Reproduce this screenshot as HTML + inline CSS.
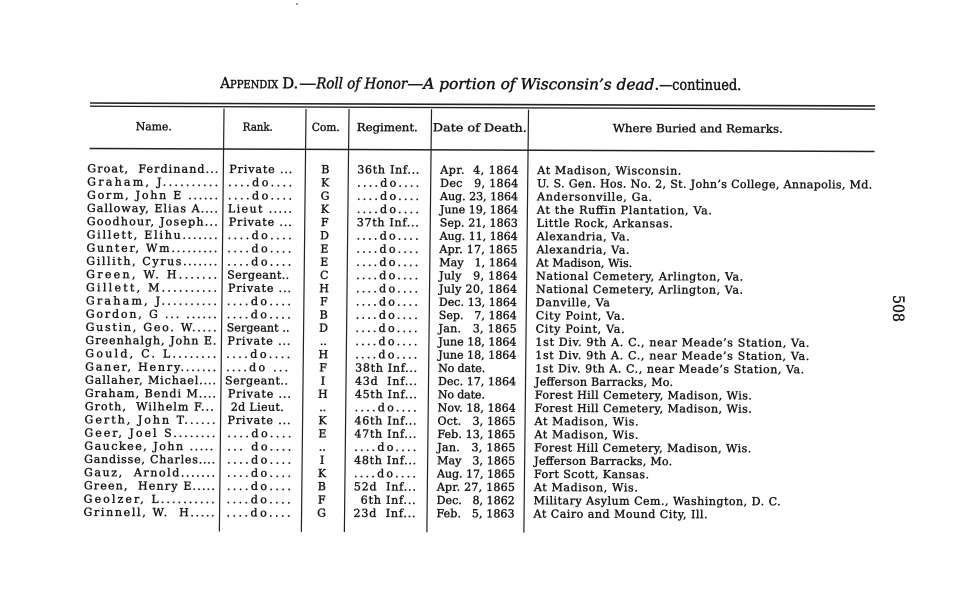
<!DOCTYPE html>
<html>
<head>
<meta charset="utf-8">
<style>
  html,body{margin:0;padding:0;background:#fff;}
  body{width:966px;height:600px;overflow:hidden;}
  svg{display:block;}
  text{font-family:"DejaVu Serif","Liberation Serif",serif;fill:#141414;stroke:#141414;stroke-width:0.38;white-space:pre;}
  .b{font-size:11px;}
  .h{font-size:11px;}
  .t{font-size:15px;stroke-width:0.45;}
  .i{font-style:italic;}
</style>
</head>
<body>
<svg width="966" height="600" viewBox="0 0 966 600" xmlns="http://www.w3.org/2000/svg">
<rect width="966" height="600" fill="#fefefe" stroke="none"/>
<circle cx="297" cy="4" r="0.9" fill="#555"/>
<g transform="matrix(1 0.0038 -0.011 1 1.21 -0.342)">
  <!-- Title -->
  <text class="t" x="220" y="87.5" textLength="58" lengthAdjust="spacingAndGlyphs">A<tspan font-size="11">PPENDIX</tspan></text>
  <text class="t" x="282" y="87.5" textLength="16" lengthAdjust="spacingAndGlyphs">D.</text>
  <text class="t" x="299" y="87.5" textLength="17" lengthAdjust="spacingAndGlyphs">—</text>
  <text class="t i" x="316" y="87.5" textLength="91" lengthAdjust="spacingAndGlyphs">Roll of Honor</text>
  <text class="t" x="407" y="87.5" textLength="16" lengthAdjust="spacingAndGlyphs">—</text>
  <text class="t i" x="423" y="87.5" textLength="236" lengthAdjust="spacingAndGlyphs">A portion of Wisconsin’s dead.</text>
  <text class="t" x="659" y="87.5" textLength="82" lengthAdjust="spacingAndGlyphs">—continued.</text>

  <!-- Rules -->
  <line x1="90" y1="103" x2="875" y2="103" stroke="#222" stroke-width="1.6"/>
  <line x1="90" y1="106.2" x2="875" y2="106.2" stroke="#222" stroke-width="1.3"/>
  <line x1="90" y1="148.5" x2="875" y2="148.5" stroke="#222" stroke-width="1.5"/>

  <!-- Vertical lines -->
  <g stroke="#222" stroke-width="1.2">
    <line x1="224" y1="108" x2="224" y2="531"/>
    <line x1="306" y1="108" x2="306" y2="531"/>
    <line x1="349" y1="108" x2="349" y2="531"/>
    <line x1="431.5" y1="108" x2="431.5" y2="531"/>
    <line x1="528.5" y1="108" x2="528.5" y2="531"/>
  </g>

  <!-- Header -->
  <text class="h" x="136" y="130" textLength="36" lengthAdjust="spacingAndGlyphs">Name.</text>
  <text class="h" x="243" y="130" textLength="30" lengthAdjust="spacingAndGlyphs">Rank.</text>
  <text class="h" x="312" y="130" textLength="28" lengthAdjust="spacingAndGlyphs">Com.</text>
  <text class="h" x="357" y="130" textLength="61" lengthAdjust="spacingAndGlyphs">Regiment.</text>
  <text class="h" x="433" y="130" textLength="94" lengthAdjust="spacingAndGlyphs">Date of Death.</text>
  <text class="h" x="613" y="130" textLength="170" lengthAdjust="spacingAndGlyphs">Where Buried and Remarks.</text>

  <!-- Rows -->
  <g class="b">
  <!-- 1 -->
  <text class="b" x="88" y="172.3" textLength="131" lengthAdjust="spacing">Groat,  Ferdinand...</text>
  <text class="b" x="230" y="172.3" textLength="63" lengthAdjust="spacing">Private ...</text>
  <text class="b" x="326" y="172.3" text-anchor="middle">B</text>
  <text class="b" x="358" y="172.3" textLength="62" lengthAdjust="spacing">36th Inf...</text>
  <text class="b" x="441" y="172.3" textLength="78" lengthAdjust="spacing">Apr.  4, 1864</text>
  <text class="b" x="538" y="172.3" textLength="144" lengthAdjust="spacing">At Madison, Wisconsin.</text>
  <!-- 2 -->
  <text class="b" x="88" y="185.5" textLength="131" lengthAdjust="spacing">Graham, J..........</text>
  <text class="b" x="229" y="185.5" textLength="64" lengthAdjust="spacing">....do....</text>
  <text class="b" x="326" y="185.5" text-anchor="middle">K</text>
  <text class="b" x="358" y="185.5" textLength="62" lengthAdjust="spacing">....do....</text>
  <text class="b" x="441" y="185.5" textLength="78" lengthAdjust="spacing">Dec   9, 1864</text>
  <text class="b" x="538" y="185.5" textLength="335" lengthAdjust="spacing">U. S. Gen. Hos. No. 2, St. John’s College, Annapolis, Md.</text>
  <!-- 3 -->
  <text class="b" x="88" y="198.7" textLength="131" lengthAdjust="spacing">Gorm, John E ......</text>
  <text class="b" x="229" y="198.7" textLength="64" lengthAdjust="spacing">....do....</text>
  <text class="b" x="326" y="198.7" text-anchor="middle">G</text>
  <text class="b" x="358" y="198.7" textLength="62" lengthAdjust="spacing">....do....</text>
  <text class="b" x="441" y="198.7" textLength="78" lengthAdjust="spacing">Aug. 23, 1864</text>
  <text class="b" x="538" y="198.7" textLength="115" lengthAdjust="spacing">Andersonville, Ga.</text>
  <!-- 4 -->
  <text class="b" x="88" y="211.9" textLength="131" lengthAdjust="spacing">Galloway, Elias A....</text>
  <text class="b" x="229" y="211.9" textLength="64" lengthAdjust="spacing">Lieut .....</text>
  <text class="b" x="326" y="211.9" text-anchor="middle">K</text>
  <text class="b" x="358" y="211.9" textLength="62" lengthAdjust="spacing">....do....</text>
  <text class="b" x="441" y="211.9" textLength="78" lengthAdjust="spacing">June 19, 1864</text>
  <text class="b" x="538" y="211.9" textLength="175" lengthAdjust="spacing">At the Ruffin Plantation, Va.</text>
  <!-- 5 -->
  <text class="b" x="88" y="225.1" textLength="131" lengthAdjust="spacing">Goodhour, Joseph...</text>
  <text class="b" x="230" y="225.1" textLength="63" lengthAdjust="spacing">Private ...</text>
  <text class="b" x="326" y="225.1" text-anchor="middle">F</text>
  <text class="b" x="358" y="225.1" textLength="62" lengthAdjust="spacing">37th Inf...</text>
  <text class="b" x="441" y="225.1" textLength="78" lengthAdjust="spacing">Sep. 21, 1863</text>
  <text class="b" x="538" y="225.1" textLength="136" lengthAdjust="spacing">Little Rock, Arkansas.</text>
  <!-- 6 -->
  <text class="b" x="88" y="238.4" textLength="131" lengthAdjust="spacing">Gillett, Elihu.......</text>
  <text class="b" x="229" y="238.4" textLength="64" lengthAdjust="spacing">....do....</text>
  <text class="b" x="326" y="238.4" text-anchor="middle">D</text>
  <text class="b" x="358" y="238.4" textLength="62" lengthAdjust="spacing">....do....</text>
  <text class="b" x="441" y="238.4" textLength="78" lengthAdjust="spacing">Aug. 11, 1864</text>
  <text class="b" x="538" y="238.4" textLength="93" lengthAdjust="spacing">Alexandria, Va.</text>
  <!-- 7 -->
  <text class="b" x="88" y="251.6" textLength="131" lengthAdjust="spacing">Gunter, Wm.........</text>
  <text class="b" x="229" y="251.6" textLength="64" lengthAdjust="spacing">....do....</text>
  <text class="b" x="326" y="251.6" text-anchor="middle">E</text>
  <text class="b" x="358" y="251.6" textLength="62" lengthAdjust="spacing">....do....</text>
  <text class="b" x="441" y="251.6" textLength="78" lengthAdjust="spacing">Apr. 17, 1865</text>
  <text class="b" x="538" y="251.6" textLength="93" lengthAdjust="spacing">Alexandria, Va.</text>
  <!-- 8 -->
  <text class="b" x="88" y="264.8" textLength="131" lengthAdjust="spacing">Gillith, Cyrus.......</text>
  <text class="b" x="229" y="264.8" textLength="64" lengthAdjust="spacing">....do....</text>
  <text class="b" x="326" y="264.8" text-anchor="middle">E</text>
  <text class="b" x="358" y="264.8" textLength="62" lengthAdjust="spacing">....do....</text>
  <text class="b" x="441" y="264.8" textLength="78" lengthAdjust="spacing">May   1, 1864</text>
  <text class="b" x="538" y="264.8" textLength="96" lengthAdjust="spacing">At Madison, Wis.</text>
  <!-- 9 -->
  <text class="b" x="88" y="278.0" textLength="131" lengthAdjust="spacing">Green, W. H.......</text>
  <text class="b" x="229" y="278.0" textLength="62" lengthAdjust="spacing">Sergeant..</text>
  <text class="b" x="326" y="278.0" text-anchor="middle">C</text>
  <text class="b" x="358" y="278.0" textLength="62" lengthAdjust="spacing">....do....</text>
  <text class="b" x="441" y="278.0" textLength="78" lengthAdjust="spacing">July   9, 1864</text>
  <text class="b" x="538" y="278.0" textLength="207" lengthAdjust="spacing">National Cemetery, Arlington, Va.</text>
  <!-- 10 -->
  <text class="b" x="88" y="291.2" textLength="131" lengthAdjust="spacing">Gillett, M..........</text>
  <text class="b" x="230" y="291.2" textLength="63" lengthAdjust="spacing">Private ...</text>
  <text class="b" x="326" y="291.2" text-anchor="middle">H</text>
  <text class="b" x="358" y="291.2" textLength="62" lengthAdjust="spacing">....do....</text>
  <text class="b" x="441" y="291.2" textLength="78" lengthAdjust="spacing">July 20, 1864</text>
  <text class="b" x="538" y="291.2" textLength="207" lengthAdjust="spacing">National Cemetery, Arlington, Va.</text>
  <!-- 11 -->
  <text class="b" x="88" y="304.4" textLength="131" lengthAdjust="spacing">Graham, J..........</text>
  <text class="b" x="229" y="304.4" textLength="64" lengthAdjust="spacing">....do....</text>
  <text class="b" x="326" y="304.4" text-anchor="middle">F</text>
  <text class="b" x="358" y="304.4" textLength="62" lengthAdjust="spacing">....do....</text>
  <text class="b" x="441" y="304.4" textLength="78" lengthAdjust="spacing">Dec. 13, 1864</text>
  <text class="b" x="538" y="304.4" textLength="74" lengthAdjust="spacing">Danville, Va</text>
  <!-- 12 -->
  <text class="b" x="88" y="317.6" textLength="131" lengthAdjust="spacing">Gordon, G ... ......</text>
  <text class="b" x="229" y="317.6" textLength="64" lengthAdjust="spacing">....do....</text>
  <text class="b" x="326" y="317.6" text-anchor="middle">B</text>
  <text class="b" x="358" y="317.6" textLength="62" lengthAdjust="spacing">....do....</text>
  <text class="b" x="441" y="317.6" textLength="78" lengthAdjust="spacing">Sep.   7, 1864</text>
  <text class="b" x="538" y="317.6" textLength="89" lengthAdjust="spacing">City Point, Va.</text>
  <!-- 13 -->
  <text class="b" x="88" y="330.8" textLength="131" lengthAdjust="spacing">Gustin, Geo. W.....</text>
  <text class="b" x="229" y="330.8" textLength="63" lengthAdjust="spacing">Sergeant ..</text>
  <text class="b" x="326" y="330.8" text-anchor="middle">D</text>
  <text class="b" x="358" y="330.8" textLength="62" lengthAdjust="spacing">....do....</text>
  <text class="b" x="441" y="330.8" textLength="78" lengthAdjust="spacing">Jan.   3, 1865</text>
  <text class="b" x="538" y="330.8" textLength="89" lengthAdjust="spacing">City Point, Va.</text>
  <!-- 14 -->
  <text class="b" x="88" y="344.0" textLength="131" lengthAdjust="spacing">Greenhalgh, John E.</text>
  <text class="b" x="230" y="344.0" textLength="63" lengthAdjust="spacing">Private ...</text>
  <text class="b" x="326" y="344.0" text-anchor="middle">..</text>
  <text class="b" x="358" y="344.0" textLength="62" lengthAdjust="spacing">....do....</text>
  <text class="b" x="441" y="344.0" textLength="78" lengthAdjust="spacing">June 18, 1864</text>
  <text class="b" x="538" y="344.0" textLength="274" lengthAdjust="spacing">1st Div. 9th A. C., near Meade’s Station, Va.</text>
  <!-- 15 -->
  <text class="b" x="88" y="357.2" textLength="131" lengthAdjust="spacing">Gould, C. L........</text>
  <text class="b" x="229" y="357.2" textLength="64" lengthAdjust="spacing">....do....</text>
  <text class="b" x="326" y="357.2" text-anchor="middle">H</text>
  <text class="b" x="358" y="357.2" textLength="62" lengthAdjust="spacing">....do....</text>
  <text class="b" x="441" y="357.2" textLength="78" lengthAdjust="spacing">June 18, 1864</text>
  <text class="b" x="538" y="357.2" textLength="274" lengthAdjust="spacing">1st Div. 9th A. C., near Meade’s Station, Va.</text>
  <!-- 16 -->
  <text class="b" x="88" y="370.5" textLength="131" lengthAdjust="spacing">Ganer, Henry.......</text>
  <text class="b" x="229" y="370.5" textLength="62" lengthAdjust="spacing">....do ...</text>
  <text class="b" x="326" y="370.5" text-anchor="middle">F</text>
  <text class="b" x="358" y="370.5" textLength="62" lengthAdjust="spacing">38th Inf...</text>
  <text class="b" x="441" y="370.5" textLength="47" lengthAdjust="spacing">No date.</text>
  <text class="b" x="538" y="370.5" textLength="269" lengthAdjust="spacing">1st Div. 9th A. C., near Meade’s Station, Va.</text>
  <!-- 17 -->
  <text class="b" x="88" y="383.7" textLength="131" lengthAdjust="spacing">Gallaher, Michael....</text>
  <text class="b" x="228" y="383.7" textLength="63" lengthAdjust="spacing">Sergeant..</text>
  <text class="b" x="326" y="383.7" text-anchor="middle">I</text>
  <text class="b" x="358" y="383.7" textLength="62" lengthAdjust="spacing">43d  Inf...</text>
  <text class="b" x="441" y="383.7" textLength="78" lengthAdjust="spacing">Dec. 17, 1864</text>
  <text class="b" x="538" y="383.7" textLength="138" lengthAdjust="spacing">Jefferson Barracks, Mo.</text>
  <!-- 18 -->
  <text class="b" x="88" y="396.9" textLength="131" lengthAdjust="spacing">Graham, Bendi M....</text>
  <text class="b" x="231" y="396.9" textLength="63" lengthAdjust="spacing">Private ...</text>
  <text class="b" x="326" y="396.9" text-anchor="middle">H</text>
  <text class="b" x="358" y="396.9" textLength="62" lengthAdjust="spacing">45th Inf...</text>
  <text class="b" x="441" y="396.9" textLength="47" lengthAdjust="spacing">No date.</text>
  <text class="b" x="538" y="396.9" textLength="217" lengthAdjust="spacing">Forest Hill Cemetery, Madison, Wis.</text>
  <!-- 19 -->
  <text class="b" x="88" y="410.1" textLength="129" lengthAdjust="spacing">Groth,  Wilhelm F...</text>
  <text class="b" x="234" y="410.1" textLength="53" lengthAdjust="spacing">2d Lieut.</text>
  <text class="b" x="326" y="410.1" text-anchor="middle">..</text>
  <text class="b" x="358" y="410.1" textLength="62" lengthAdjust="spacing">....do....</text>
  <text class="b" x="441" y="410.1" textLength="78" lengthAdjust="spacing">Nov. 18, 1864</text>
  <text class="b" x="538" y="410.1" textLength="217" lengthAdjust="spacing">Forest Hill Cemetery, Madison, Wis.</text>
  <!-- 20 -->
  <text class="b" x="88" y="423.3" textLength="131" lengthAdjust="spacing">Gerth, John T......</text>
  <text class="b" x="231" y="423.3" textLength="63" lengthAdjust="spacing">Private ...</text>
  <text class="b" x="326" y="423.3" text-anchor="middle">K</text>
  <text class="b" x="358" y="423.3" textLength="62" lengthAdjust="spacing">46th Inf...</text>
  <text class="b" x="441" y="423.3" textLength="78" lengthAdjust="spacing">Oct.   3, 1865</text>
  <text class="b" x="538" y="423.3" textLength="104" lengthAdjust="spacing">At Madison, Wis.</text>
  <!-- 21 -->
  <text class="b" x="88" y="436.5" textLength="131" lengthAdjust="spacing">Geer, Joel S........</text>
  <text class="b" x="231" y="436.5" textLength="64" lengthAdjust="spacing">....do....</text>
  <text class="b" x="326" y="436.5" text-anchor="middle">E</text>
  <text class="b" x="358" y="436.5" textLength="62" lengthAdjust="spacing">47th Inf...</text>
  <text class="b" x="441" y="436.5" textLength="78" lengthAdjust="spacing">Feb. 13, 1865</text>
  <text class="b" x="538" y="436.5" textLength="104" lengthAdjust="spacing">At Madison, Wis.</text>
  <!-- 22 -->
  <text class="b" x="88" y="449.7" textLength="129" lengthAdjust="spacing">Gauckee, John .....</text>
  <text class="b" x="231" y="449.7" textLength="64" lengthAdjust="spacing">... do....</text>
  <text class="b" x="326" y="449.7" text-anchor="middle">..</text>
  <text class="b" x="358" y="449.7" textLength="62" lengthAdjust="spacing">....do....</text>
  <text class="b" x="441" y="449.7" textLength="78" lengthAdjust="spacing">Jan.   3, 1865</text>
  <text class="b" x="538" y="449.7" textLength="217" lengthAdjust="spacing">Forest Hill Cemetery, Madison, Wis.</text>
  <!-- 23 -->
  <text class="b" x="88" y="462.9" textLength="131" lengthAdjust="spacing">Gandisse, Charles....</text>
  <text class="b" x="231" y="462.9" textLength="64" lengthAdjust="spacing">....do....</text>
  <text class="b" x="326" y="462.9" text-anchor="middle">I</text>
  <text class="b" x="358" y="462.9" textLength="62" lengthAdjust="spacing">48th Inf...</text>
  <text class="b" x="441" y="462.9" textLength="78" lengthAdjust="spacing">May   3, 1865</text>
  <text class="b" x="538" y="462.9" textLength="138" lengthAdjust="spacing">Jefferson Barracks, Mo.</text>
  <!-- 24 -->
  <text class="b" x="88" y="476.1" textLength="131" lengthAdjust="spacing">Gauz,  Arnold.......</text>
  <text class="b" x="231" y="476.1" textLength="64" lengthAdjust="spacing">....do....</text>
  <text class="b" x="326" y="476.1" text-anchor="middle">K</text>
  <text class="b" x="358" y="476.1" textLength="62" lengthAdjust="spacing">....do....</text>
  <text class="b" x="441" y="476.1" textLength="78" lengthAdjust="spacing">Aug. 17, 1865</text>
  <text class="b" x="538" y="476.1" textLength="115" lengthAdjust="spacing">Fort Scott, Kansas.</text>
  <!-- 25 -->
  <text class="b" x="88" y="489.3" textLength="131" lengthAdjust="spacing">Green,  Henry E.....</text>
  <text class="b" x="231" y="489.3" textLength="64" lengthAdjust="spacing">....do....</text>
  <text class="b" x="326" y="489.3" text-anchor="middle">B</text>
  <text class="b" x="358" y="489.3" textLength="62" lengthAdjust="spacing">52d  Inf...</text>
  <text class="b" x="441" y="489.3" textLength="78" lengthAdjust="spacing">Apr. 27, 1865</text>
  <text class="b" x="538" y="489.3" textLength="104" lengthAdjust="spacing">At Madison, Wis.</text>
  <!-- 26 -->
  <text class="b" x="88" y="502.6" textLength="131" lengthAdjust="spacing">Geolzer, L..........</text>
  <text class="b" x="231" y="502.6" textLength="64" lengthAdjust="spacing">....do....</text>
  <text class="b" x="326" y="502.6" text-anchor="middle">F</text>
  <text class="b" x="365" y="502.6" textLength="55" lengthAdjust="spacing">6th Inf...</text>
  <text class="b" x="441" y="502.6" textLength="78" lengthAdjust="spacing">Dec.   8, 1862</text>
  <text class="b" x="538" y="502.6" textLength="247" lengthAdjust="spacing">Military Asylum Cem., Washington, D. C.</text>
  <!-- 27 -->
  <text class="b" x="88" y="515.8" textLength="131" lengthAdjust="spacing">Grinnell, W.  H.....</text>
  <text class="b" x="231" y="515.8" textLength="64" lengthAdjust="spacing">....do....</text>
  <text class="b" x="326" y="515.8" text-anchor="middle">G</text>
  <text class="b" x="358" y="515.8" textLength="62" lengthAdjust="spacing">23d  Inf...</text>
  <text class="b" x="441" y="515.8" textLength="78" lengthAdjust="spacing">Feb.   5, 1863</text>
  <text class="b" x="538" y="515.8" textLength="174" lengthAdjust="spacing">At Cairo and Mound City, Ill.</text>
  </g>
</g>

<!-- Page number -->
<text transform="translate(893,295) rotate(90)" font-size="16" textLength="27" lengthAdjust="spacingAndGlyphs">508</text>
</svg>
</body>
</html>
